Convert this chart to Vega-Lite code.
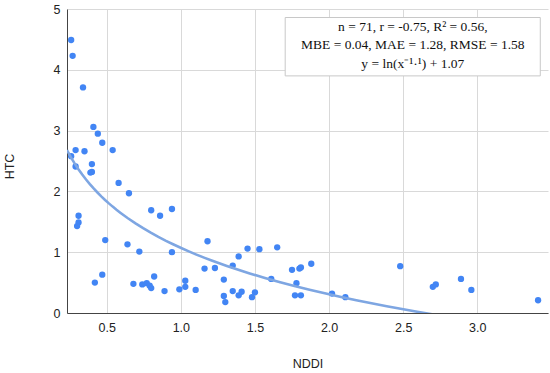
{
  "$schema": "https://vega.github.io/schema/vega-lite/v6.json",
  "width": 481,
  "height": 304,
  "autosize": "none",
  "padding": {"left": 67, "top": 9, "right": 2, "bottom": 60},
  "background": "white",
  "config": {
    "view": {"stroke": null},
    "axis": {"labelFont": "Liberation Sans", "titleFont": "Liberation Sans", "labelFontSize": 12.5, "titleFontSize": 12.5, "labelColor": "#222", "titleColor": "#222", "titleFontWeight": "normal", "gridColor": "#d9d9d9", "domainColor": "#444", "ticks": false}
  },
  "datasets": {
    "pts": [
      {"NDDI": 0.26, "HTC": 4.49}, {"NDDI": 0.27, "HTC": 4.23}, {"NDDI": 0.34, "HTC": 3.71}, {"NDDI": 0.41, "HTC": 3.06},
      {"NDDI": 0.44, "HTC": 2.95}, {"NDDI": 0.47, "HTC": 2.80}, {"NDDI": 0.54, "HTC": 2.68}, {"NDDI": 0.29, "HTC": 2.68},
      {"NDDI": 0.35, "HTC": 2.66}, {"NDDI": 0.26, "HTC": 2.58}, {"NDDI": 0.29, "HTC": 2.41}, {"NDDI": 0.40, "HTC": 2.45},
      {"NDDI": 0.40, "HTC": 2.32}, {"NDDI": 0.39, "HTC": 2.31},
      {"NDDI": 0.58, "HTC": 2.14}, {"NDDI": 0.65, "HTC": 1.97}, {"NDDI": 0.80, "HTC": 1.69}, {"NDDI": 0.86, "HTC": 1.60},
      {"NDDI": 0.94, "HTC": 1.71}, {"NDDI": 0.31, "HTC": 1.60}, {"NDDI": 0.31, "HTC": 1.49}, {"NDDI": 0.30, "HTC": 1.43},
      {"NDDI": 0.49, "HTC": 1.20}, {"NDDI": 0.64, "HTC": 1.13}, {"NDDI": 0.72, "HTC": 1.01}, {"NDDI": 0.94, "HTC": 1.00},
      {"NDDI": 0.42, "HTC": 0.50}, {"NDDI": 0.47, "HTC": 0.63}, {"NDDI": 0.68, "HTC": 0.48}, {"NDDI": 0.74, "HTC": 0.47},
      {"NDDI": 0.77, "HTC": 0.49}, {"NDDI": 0.79, "HTC": 0.45}, {"NDDI": 0.80, "HTC": 0.41}, {"NDDI": 0.82, "HTC": 0.60},
      {"NDDI": 0.89, "HTC": 0.36}, {"NDDI": 0.99, "HTC": 0.39}, {"NDDI": 1.03, "HTC": 0.53}, {"NDDI": 1.03, "HTC": 0.43},
      {"NDDI": 1.10, "HTC": 0.38},
      {"NDDI": 1.18, "HTC": 1.18}, {"NDDI": 1.16, "HTC": 0.73}, {"NDDI": 1.23, "HTC": 0.74}, {"NDDI": 1.29, "HTC": 0.55},
      {"NDDI": 1.29, "HTC": 0.28}, {"NDDI": 1.30, "HTC": 0.18}, {"NDDI": 1.35, "HTC": 0.78}, {"NDDI": 1.35, "HTC": 0.36},
      {"NDDI": 1.39, "HTC": 0.93}, {"NDDI": 1.39, "HTC": 0.29}, {"NDDI": 1.41, "HTC": 0.35}, {"NDDI": 1.45, "HTC": 1.06},
      {"NDDI": 1.48, "HTC": 0.26}, {"NDDI": 1.50, "HTC": 0.34}, {"NDDI": 1.53, "HTC": 1.05}, {"NDDI": 1.61, "HTC": 0.56},
      {"NDDI": 1.65, "HTC": 1.08}, {"NDDI": 1.75, "HTC": 0.71}, {"NDDI": 1.80, "HTC": 0.73}, {"NDDI": 1.81, "HTC": 0.75},
      {"NDDI": 1.78, "HTC": 0.49}, {"NDDI": 1.77, "HTC": 0.29}, {"NDDI": 1.81, "HTC": 0.29}, {"NDDI": 1.88, "HTC": 0.81},
      {"NDDI": 2.02, "HTC": 0.32}, {"NDDI": 2.11, "HTC": 0.26},
      {"NDDI": 2.48, "HTC": 0.77}, {"NDDI": 2.70, "HTC": 0.43}, {"NDDI": 2.72, "HTC": 0.47}, {"NDDI": 2.89, "HTC": 0.56},
      {"NDDI": 2.96, "HTC": 0.38}, {"NDDI": 3.41, "HTC": 0.21}
    ],
    "box": [{"x1": 1.704, "x2": 3.425, "y1": 3.90, "y2": 4.86}],
    "notes": [
      {"x": 2.565, "y": 4.70, "label": "n = 71, r = -0.75, R² = 0.56,"},
      {"x": 2.565, "y": 4.40, "label": "MBE = 0.04, MAE = 1.28, RMSE = 1.58"},
      {"x": 2.565, "y": 4.10, "label": "y = ln(x⁻¹·¹) + 1.07"}
    ]
  },
  "layer": [
    {
      "data": {"name": "pts"},
      "mark": {"type": "circle", "size": 40, "color": "#4285f4", "opacity": 1},
      "encoding": {
        "x": {"field": "NDDI", "type": "quantitative", "scale": {"domain": [0.232, 3.477], "nice": false, "zero": false},
              "axis": {"values": [0.5, 1, 1.5, 2, 2.5, 3], "format": ".1f", "title": "NDDI", "labelPadding": 8, "titleY": 50, "titleBaseline": "middle"}},
        "y": {"field": "HTC", "type": "quantitative", "scale": {"domain": [0, 5], "nice": false},
              "axis": {"values": [0, 1, 2, 3, 4, 5], "format": "d", "title": "HTC", "labelPadding": 7, "titleX": -58, "titleY": 157, "titleBaseline": "middle"}}
      }
    },
    {
      "data": {"name": "pts"},
      "transform": [{"regression": "HTC", "on": "NDDI", "method": "log", "extent": [0.232, 2.8]}],
      "mark": {"type": "line", "color": "#7ea6e2", "strokeWidth": 2.6, "clip": true},
      "encoding": {
        "x": {"field": "NDDI", "type": "quantitative"},
        "y": {"field": "HTC", "type": "quantitative"}
      }
    },
    {
      "data": {"name": "box"},
      "mark": {"type": "rect", "fill": "white", "stroke": "#c8c8c8", "strokeWidth": 1},
      "encoding": {
        "x": {"field": "x1", "type": "quantitative"},
        "x2": {"field": "x2"},
        "y": {"field": "y1", "type": "quantitative"},
        "y2": {"field": "y2"}
      }
    },
    {
      "data": {"name": "notes"},
      "mark": {"type": "text", "font": "Liberation Serif", "fontSize": 13.5, "color": "#111", "align": "center", "baseline": "middle"},
      "encoding": {
        "x": {"field": "x", "type": "quantitative"},
        "y": {"field": "y", "type": "quantitative"},
        "text": {"field": "label"}
      }
    }
  ]
}
